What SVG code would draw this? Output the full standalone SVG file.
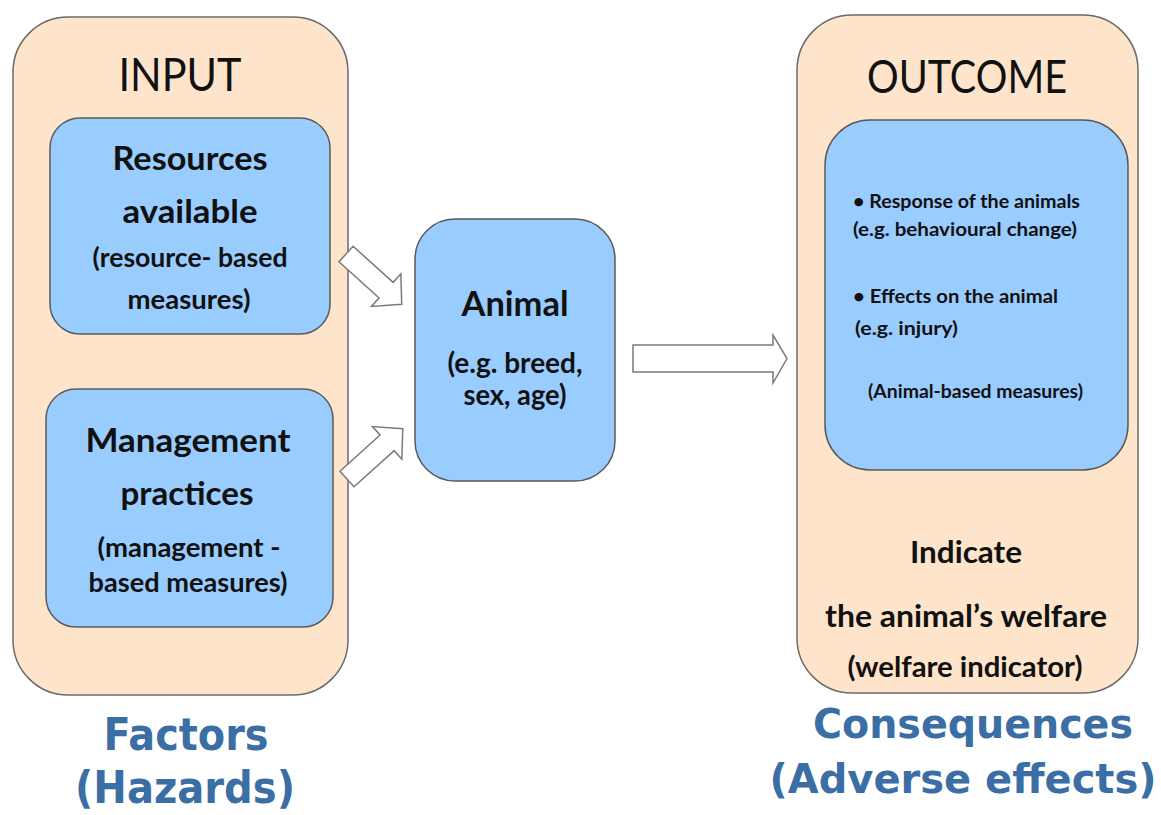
<svg xmlns="http://www.w3.org/2000/svg" width="1161" height="815" viewBox="0 0 1161 815">
<defs>
<style>
.outer{fill:#FDE4CA;stroke:#6b6b6b;stroke-width:1.5}
.inner{fill:#99CCFF;stroke:#5a5a5a;stroke-width:1.5}
.arrow{fill:#ffffff;stroke:#7a7a7a;stroke-width:1.5;stroke-linejoin:miter}
.t{font-family:Lato,"Open Sans","Liberation Sans",sans-serif;fill:#111;text-anchor:middle}
.b{font-weight:bold}
.hdr{font-size:47px;font-weight:normal}
.big{font-size:32px}
.mid{font-size:27px}
.sm{font-size:19px;text-anchor:start}
.lbl{font-family:"DejaVu Sans",Verdana,sans-serif;font-weight:bold;fill:#3A6EA5;text-anchor:middle}
</style>
</defs>
<rect width="1161" height="815" fill="#ffffff"/>

<g id="input">
<rect class="outer" x="13" y="17" width="335" height="678" rx="55" ry="55"/>
<text class="t hdr" x="180" y="91" textLength="123" lengthAdjust="spacingAndGlyphs">INPUT</text>
</g>

<g id="resources">
<rect class="inner" x="50" y="118" width="280" height="216" rx="30" ry="30"/>
<text class="t b big" x="190" y="170" textLength="155" lengthAdjust="spacingAndGlyphs">Resources</text>
<text class="t b big" x="190" y="223" textLength="135" lengthAdjust="spacingAndGlyphs">available</text>
<text class="t b mid" x="190" y="267" textLength="195" lengthAdjust="spacingAndGlyphs">(resource- based</text>
<text class="t b mid" x="189" y="309" textLength="123" lengthAdjust="spacingAndGlyphs">measures)</text>
</g>

<g id="management">
<rect class="inner" x="46" y="389" width="287" height="238" rx="30" ry="30"/>
<text class="t b big" x="188" y="452" textLength="205" lengthAdjust="spacingAndGlyphs">Management</text>
<text class="t b big" x="187" y="505" textLength="133" lengthAdjust="spacingAndGlyphs">practices</text>
<text class="t b mid" x="189" y="557" textLength="183" lengthAdjust="spacingAndGlyphs">(management -</text>
<text class="t b mid" x="188" y="592" textLength="199" lengthAdjust="spacingAndGlyphs">based measures)</text>
</g>

<g id="factors">
<text class="lbl" x="186" y="750" font-size="44" textLength="165" lengthAdjust="spacingAndGlyphs">Factors</text>
<text class="lbl" x="185" y="803" font-size="44" textLength="220" lengthAdjust="spacingAndGlyphs">(Hazards)</text>
</g>

<g id="animal">
<rect class="inner" x="415" y="219" width="200" height="262" rx="40" ry="40"/>
<text class="t b" x="515" y="316" font-size="34" textLength="107" lengthAdjust="spacingAndGlyphs">Animal</text>
<text class="t b" x="515" y="373" font-size="29" textLength="135" lengthAdjust="spacingAndGlyphs">(e.g. breed,</text>
<text class="t b" x="515" y="405" font-size="29" textLength="103" lengthAdjust="spacingAndGlyphs">sex, age)</text>
</g>

<g id="outcome">
<rect class="outer" x="797" y="15" width="341" height="678" rx="55" ry="55"/>
<text class="t hdr" x="967" y="93" textLength="200" lengthAdjust="spacingAndGlyphs">OUTCOME</text>
<text class="t b" x="966" y="563" font-size="30" textLength="112" lengthAdjust="spacingAndGlyphs">Indicate</text>
<text class="t b" x="966" y="627" font-size="30" textLength="282" lengthAdjust="spacingAndGlyphs">the animal’s welfare</text>
<text class="t b" x="965" y="677" font-size="28" textLength="235" lengthAdjust="spacingAndGlyphs">(welfare indicator)</text>
</g>

<g id="animal-based">
<rect class="inner" x="825" y="120" width="303" height="350" rx="45" ry="45"/>
<text class="t b sm" x="853" y="208" textLength="227" lengthAdjust="spacingAndGlyphs">• Response of the animals</text>
<text class="t b sm" x="853" y="236" textLength="224" lengthAdjust="spacingAndGlyphs">(e.g. behavioural  change)</text>
<text class="t b sm" x="853" y="303" textLength="205" lengthAdjust="spacingAndGlyphs">• Effects on the animal</text>
<text class="t b sm" x="855" y="335" textLength="103" lengthAdjust="spacingAndGlyphs">(e.g. injury)</text>
<text class="t b sm" x="868" y="398" textLength="215" lengthAdjust="spacingAndGlyphs">(Animal-based measures)</text>
</g>

<g id="consequences">
<text class="lbl" x="973" y="738" font-size="40" textLength="320" lengthAdjust="spacingAndGlyphs">Consequences</text>
<text class="lbl" x="963" y="793" font-size="40" textLength="387" lengthAdjust="spacingAndGlyphs">(Adverse effects)</text>
</g>

<g id="connectors">
<path class="arrow" transform="translate(346,254) rotate(42)" d="M0,-10.5 L54,-10.5 L54,-22 L75,0 L54,22 L54,10.5 L0,10.5 Z"/>
<path class="arrow" transform="translate(347,479) rotate(-42)" d="M0,-10.5 L54,-10.5 L54,-22 L75,0 L54,22 L54,10.5 L0,10.5 Z"/>
<path class="arrow" d="M633,345 L773,345 L773,335 L787,358.5 L773,383 L773,372 L633,372 Z"/>
</g>
</svg>
